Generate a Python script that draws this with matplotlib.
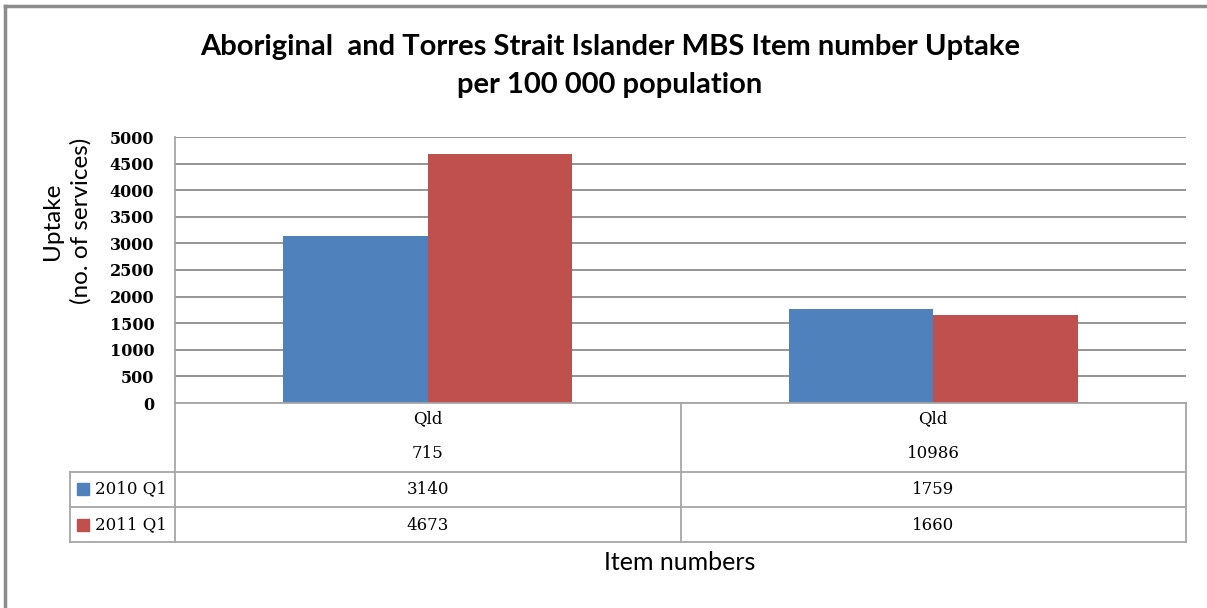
import matplotlib.pyplot as plt
import numpy as np
from matplotlib.lines import Line2D

# data
states = ['Qld', 'Qld']
items = ['715', '10986']
series = ['2010 Q1', '2011 Q1']
uptake_2010 = [3140, 1759]
uptake_2011 = [4673, 1660]
colors = ['#4F81BD', '#C0504D']

W, H = 1207, 608
GRID = '#8C8C8C'
EDGE = '#A6A6A6'
SANS = ['Lato', 'DejaVu Sans']
SERIF = ['DejaVu Serif']


def fx(x):
    return x / W


def fy(y):
    return 1 - y / H


fig = plt.figure(figsize=(W / 100, H / 100), dpi=100)

# plot area in pixels
L, R, T, B = 175, 1186, 137, 403
ax = fig.add_axes([fx(L), fy(B), fx(R) - fx(L), fy(T) - fy(B)])

x = np.arange(len(states))
bw = 0.286
ax.bar(x - bw / 2, uptake_2010, bw, color=colors[0], zorder=3)
ax.bar(x + bw / 2, uptake_2011, bw, color=colors[1], zorder=3)
ax.set_xlim(-0.5, len(states) - 0.5)
ax.set_ylim(0, 5000)
ax.set_yticks(np.arange(0, 5001, 500))
ax.set_yticklabels([str(v) for v in range(0, 5001, 500)],
                   family=SERIF, fontsize=11.5, fontweight='bold')
ax.tick_params(axis='y', length=0, pad=15)
ax.tick_params(axis='x', length=0, labelbottom=False)
ax.grid(axis='y', color=GRID, linewidth=1.3, zorder=0)
for s in ['top', 'right', 'bottom']:
    ax.spines[s].set_visible(False)
ax.spines['left'].set_color(EDGE)
ax.spines['left'].set_linewidth(1.3)

# data table below the plot, same x scale
tb = fig.add_axes([fx(L), fy(542), fx(R) - fx(L), fy(403) - fy(542)])
tb.set_xlim(-0.5, len(states) - 0.5)
tb.set_ylim(542, 403)
tb.axis('off')

cw = (R - L) / len(states)
left_col = (70 - L) / cw - 0.5
mid = [i + 0.5 for i in range(len(states) - 1)]
kw = dict(color=EDGE, linewidth=1.3, clip_on=False)

tb.plot([-0.5, len(states) - 0.5], [403, 403], **kw)
for yy in [472, 507, 542]:
    tb.plot([left_col, len(states) - 0.5], [yy, yy], **kw)
for xx in [-0.5] + mid + [len(states) - 0.5]:
    tb.plot([xx, xx], [403, 542], **kw)
tb.plot([left_col, left_col], [472, 542], **kw)

tfs = 12
for i in range(len(states)):
    tb.text(x[i], 419, states[i], ha='center', va='center', family=SERIF, fontsize=tfs)
    tb.text(x[i], 454, items[i], ha='center', va='center', family=SERIF, fontsize=tfs)
    tb.text(x[i], 489, str(uptake_2010[i]), ha='center', va='center', family=SERIF, fontsize=tfs)
    tb.text(x[i], 525, str(uptake_2011[i]), ha='center', va='center', family=SERIF, fontsize=tfs)

for j, (name, yy) in enumerate(zip(series, [489, 525])):
    tb.plot([left_col + 13 / cw], [yy], marker='s', markersize=8, color=colors[j], clip_on=False)
    tb.text(left_col + 25 / cw, yy, name, ha='left', va='center', family=SERIF, fontsize=tfs)

# titles and labels
fig.text(fx(610), fy(47), 'Aboriginal  and Torres Strait Islander MBS Item number Uptake',
         ha='center', va='center', family=SANS, fontsize=21, fontweight='bold')
fig.text(fx(610), fy(85), 'per 100 000 population',
         ha='center', va='center', family=SANS, fontsize=21, fontweight='bold')
fig.text(fx(67), fy(221), 'Uptake\n(no. of services)', rotation=90, ha='center', va='center',
         family=SANS, fontsize=17.5, linespacing=1.4, multialignment='center')
fig.text(fx(680), fy(563), 'Item numbers', ha='center', va='center', family=SANS, fontsize=18)

# chart frame (top and left edges are visible)
fig.add_artist(Line2D([fx(5), fx(W)], [fy(6), fy(6)], color='#8C8C8C', linewidth=2.5))
fig.add_artist(Line2D([fx(5), fx(5)], [fy(6), 0], color='#8C8C8C', linewidth=2.5))

fig.savefig('out.png', dpi=100)
